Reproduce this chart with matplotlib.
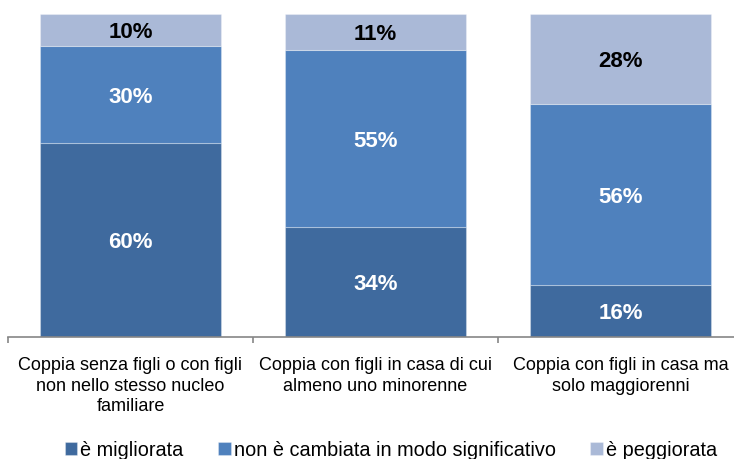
import matplotlib
matplotlib.use("Agg")
import matplotlib.pyplot as plt
import numpy as np

categories = ["Coppia senza figli o con figli\nnon nello stesso nucleo\nfamiliare",
              "Coppia con figli in casa di cui\nalmeno uno minorenne",
              "Coppia con figli in casa ma\nsolo maggiorenni"]
series_names = ["è migliorata", "non è cambiata in modo significativo", "è peggiorata"]
migliorata = [60, 34, 16]
non_cambiata = [30, 55, 56]
peggiorata = [10, 11, 28]

colors = ["#3F6A9E", "#4F81BD", "#AAB9D7"]
label_colors = ["white", "white", "black"]

plt.rcParams['font.family'] = ['Liberation Sans', 'DejaVu Sans']

W, H = 734, 459
fig = plt.figure(figsize=(W / 100, H / 100), dpi=100)
ax_left, ax_right, ax_top, ax_bottom = 8, 743, 14, 337
ax = fig.add_axes([ax_left / W, (H - ax_bottom) / H, (ax_right - ax_left) / W, (ax_bottom - ax_top) / H])

x = np.arange(len(categories))
bottom = np.zeros(len(categories))
for vals, col, lc, name in zip([migliorata, non_cambiata, peggiorata], colors, label_colors, series_names):
    ax.bar(x, vals, width=0.735, bottom=bottom, color=col, label=name,
           edgecolor=(1, 1, 1, 0.3), linewidth=0.8)
    for xi, b, v in zip(x, bottom, vals):
        ax.annotate(f"{v}%", (xi, b + v / 2), xytext=(0, -2), textcoords="offset points",
                    ha="center", va="center", color=lc, fontsize=16, fontweight="bold")
    bottom += np.array(vals)

ax.set_xlim(-0.5, 2.5)
ax.set_ylim(0, 100)
for s in ["left", "right", "top"]:
    ax.spines[s].set_visible(False)
ax.spines["bottom"].set_color("#868686")
ax.spines["bottom"].set_linewidth(1.2)
ax.set_yticks([])
ax.set_xticks([-0.5, 0.5, 1.5, 2.5])
ax.set_xticklabels([])
ax.tick_params(axis="x", which="major", direction="out", length=4, color="#868686", width=1.2)
ax.set_xticks(x, minor=True)
ax.set_xticklabels(categories, minor=True, fontsize=13, linespacing=1.27)
ax.tick_params(axis="x", which="minor", length=0, pad=14.5)

handles, labels = ax.get_legend_handles_labels()
fig.legend(handles, labels, loc="center", bbox_to_anchor=(391 / W, (H - 450) / H), ncol=3,
           frameon=False, fontsize=14.3, handlelength=0.62, handleheight=0.62,
           handletextpad=0.15, columnspacing=1.75, borderaxespad=0, borderpad=0)

fig.savefig("out.png", dpi=100)
